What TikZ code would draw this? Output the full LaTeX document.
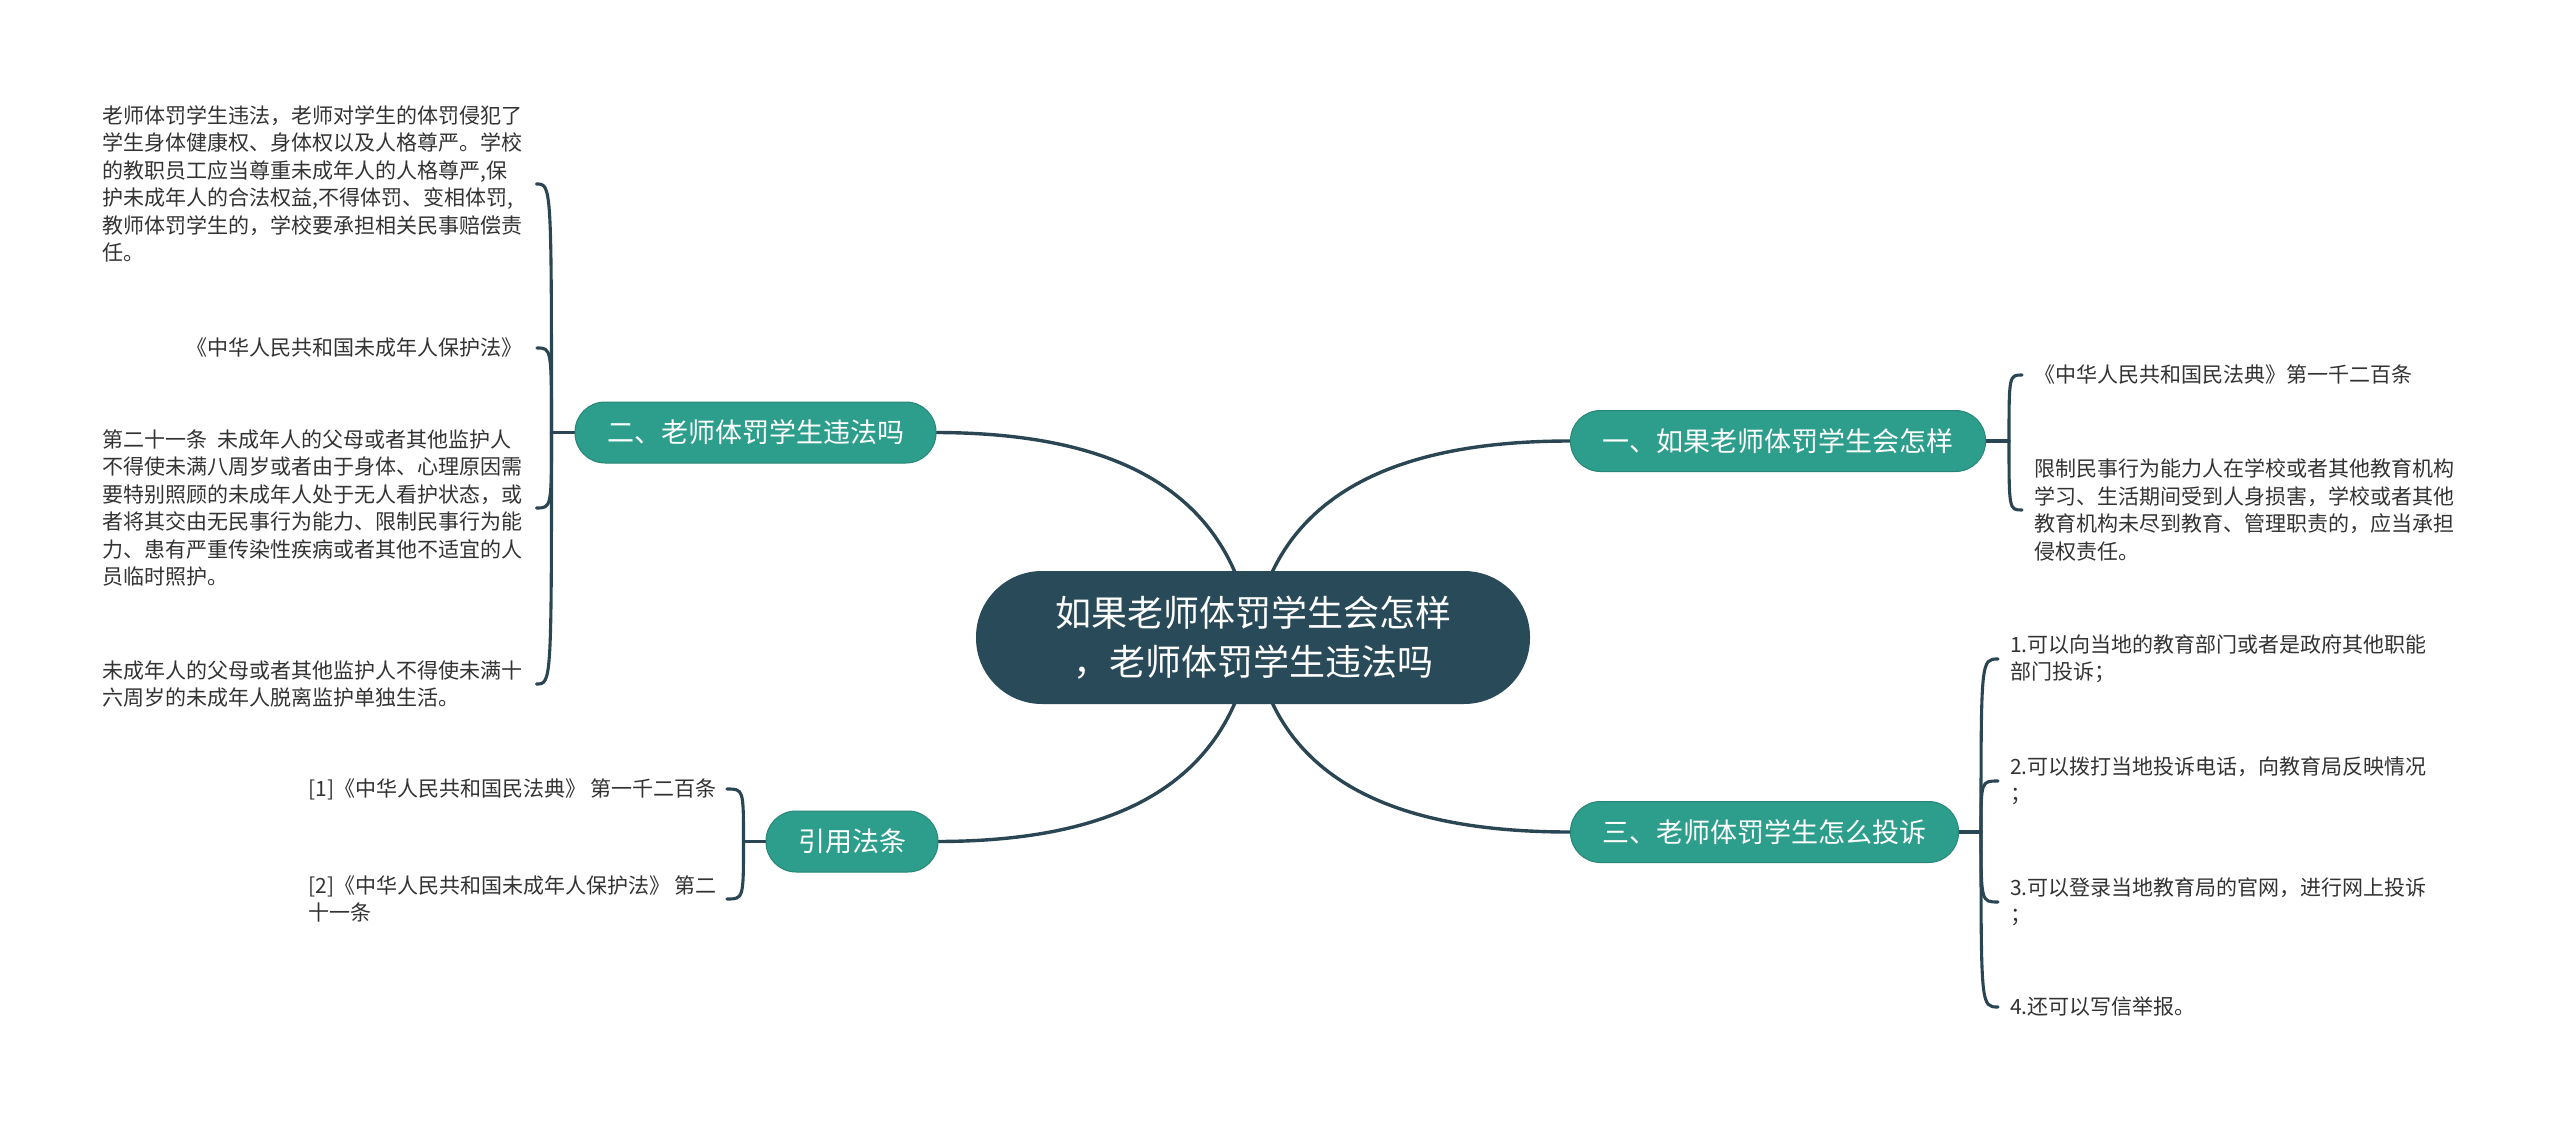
\documentclass[tikz,border=0pt]{standalone}
\usepackage{fontspec}
\setmainfont{Noto Sans CJK SC}
\usetikzlibrary{calc}
\pgfdeclarelayer{bg}
\pgfsetlayers{bg,main}
\definecolor{linec}{HTML}{2B4653}
\definecolor{centerc}{HTML}{294A58}
\definecolor{tealc}{HTML}{2E9E8C}
\definecolor{leaftext}{HTML}{333333}
\tikzset{
 centernode/.style={fill=centerc, text=white, rounded corners=66pt, minimum width=554pt, minimum height=133pt, align=center, font=\fontsize{36}{49}\selectfont, inner sep=0pt},
 branch/.style={fill=tealc, draw=tealc!85!black, line width=1pt, text=white, rounded corners=30pt, minimum height=61pt, inner xsep=32pt, inner ysep=0pt, font=\fontsize{27}{32}\selectfont},
 leaf/.style={text=leaftext, align=left, inner sep=0pt, font=\fontsize{21}{27.5}\selectfont},
 conn/.style={draw=linec, line width=3.4pt, line cap=round},
 brk/.style={draw=linec, line width=3.1pt, line cap=round}
}
\begin{document}
\begin{tikzpicture}[x=1pt,y=-1pt]
\useasboundingbox (0,0) rectangle (2560,1121);

\node[centernode] (c) at (1253,637.5) {如果老师体罚学生会怎样\\，老师体罚学生违法吗};
\node[branch] (b1) at (1778,441) {一、如果老师体罚学生会怎样};
\node[branch] (b2) at (755.5,432.5) {二、老师体罚学生违法吗};
\node[branch] (b3) at (1764.5,832) {三、老师体罚学生怎么投诉};
\node[branch] (b4) at (852,841.5) {引用法条};

\node[leaf, anchor=west] (l1) at (102,184) {老师体罚学生违法，老师对学生的体罚侵犯了\\学生身体健康权、身体权以及人格尊严。学校\\的教职员工应当尊重未成年人的人格尊严,保\\护未成年人的合法权益,不得体罚、变相体罚,\\教师体罚学生的，学校要承担相关民事赔偿责\\任。};
\node[leaf, anchor=east] (l2) at (523,348) {《中华人民共和国未成年人保护法》};
\node[leaf, anchor=west] (l3) at (102,508) {第二十一条\hspace{0.5em}未成年人的父母或者其他监护人\\不得使未满八周岁或者由于身体、心理原因需\\要特别照顾的未成年人处于无人看护状态，或\\者将其交由无民事行为能力、限制民事行为能\\力、患有严重传染性疾病或者其他不适宜的人\\员临时照护。};
\node[leaf, anchor=west] (l4) at (102,684) {未成年人的父母或者其他监护人不得使未满十\\六周岁的未成年人脱离监护单独生活。};

\node[leaf, anchor=west] (r1) at (2034,375) {《中华人民共和国民法典》第一千二百条};
\node[leaf, anchor=west] (r2) at (2034,510) {限制民事行为能力人在学校或者其他教育机构\\学习、生活期间受到人身损害，学校或者其他\\教育机构未尽到教育、管理职责的，应当承担\\侵权责任。};

\node[leaf, anchor=west] (t1) at (2010,659) {1.可以向当地的教育部门或者是政府其他职能\\部门投诉；};
\node[leaf, anchor=west] (t2) at (2010,781) {2.可以拨打当地投诉电话，向教育局反映情况\\；};
\node[leaf, anchor=west] (t3) at (2010,902) {3.可以登录当地教育局的官网，进行网上投诉\\；};
\node[leaf, anchor=west] (t4) at (2010,1007) {4.还可以写信举报。};

\node[leaf, anchor=east] (y1) at (717,789) {[1]《中华人民共和国民法典》 第一千二百条};
\node[leaf, anchor=east] (y2) at (717,899) {[2]《中华人民共和国未成年人保护法》 第二\\十一条};

\coordinate (s1) at ($(b1.east)+(23,0)$);
\coordinate (s2) at ($(b2.west)+(-23,0)$);
\coordinate (s3) at ($(b3.east)+(22,0)$);
\coordinate (s4) at ($(b4.west)+(-22,0)$);

\begin{pgfonlayer}{bg}
\fill[white] (0,0) rectangle (2560,1121);
\draw[conn] (c.center) .. controls (1230,480) and (1100,433) .. (b2.east);
\draw[conn] (c.center) .. controls (1276,480) and (1420,441) .. (b1.west);
\draw[conn] (c.center) .. controls (1230,795) and (1100,841) .. (b4.east);
\draw[conn] (c.center) .. controls (1276,795) and (1420,832) .. (b3.west);

\draw[brk] (b2.west) -- (s2);
\foreach \n in {l1,l2,l3,l4} \draw[brk] (s2) .. controls (s2 |- \n.east) .. ($(\n.east)+(14,0)$);
\draw[brk] (b1.east) -- (s1);
\foreach \n in {r1,r2} \draw[brk] (s1) .. controls (s1 |- \n.west) .. ($(\n.west)+(-12,0)$);
\draw[brk] (b3.east) -- (s3);
\foreach \n in {t1,t2,t3,t4} \draw[brk] (s3) .. controls (s3 |- \n.west) .. ($(\n.west)+(-12,0)$);
\draw[brk] (b4.west) -- (s4);
\foreach \n in {y1,y2} \draw[brk] (s4) .. controls (s4 |- \n.east) .. ($(\n.east)+(10,0)$);
\end{pgfonlayer}
\end{tikzpicture}
\end{document}
